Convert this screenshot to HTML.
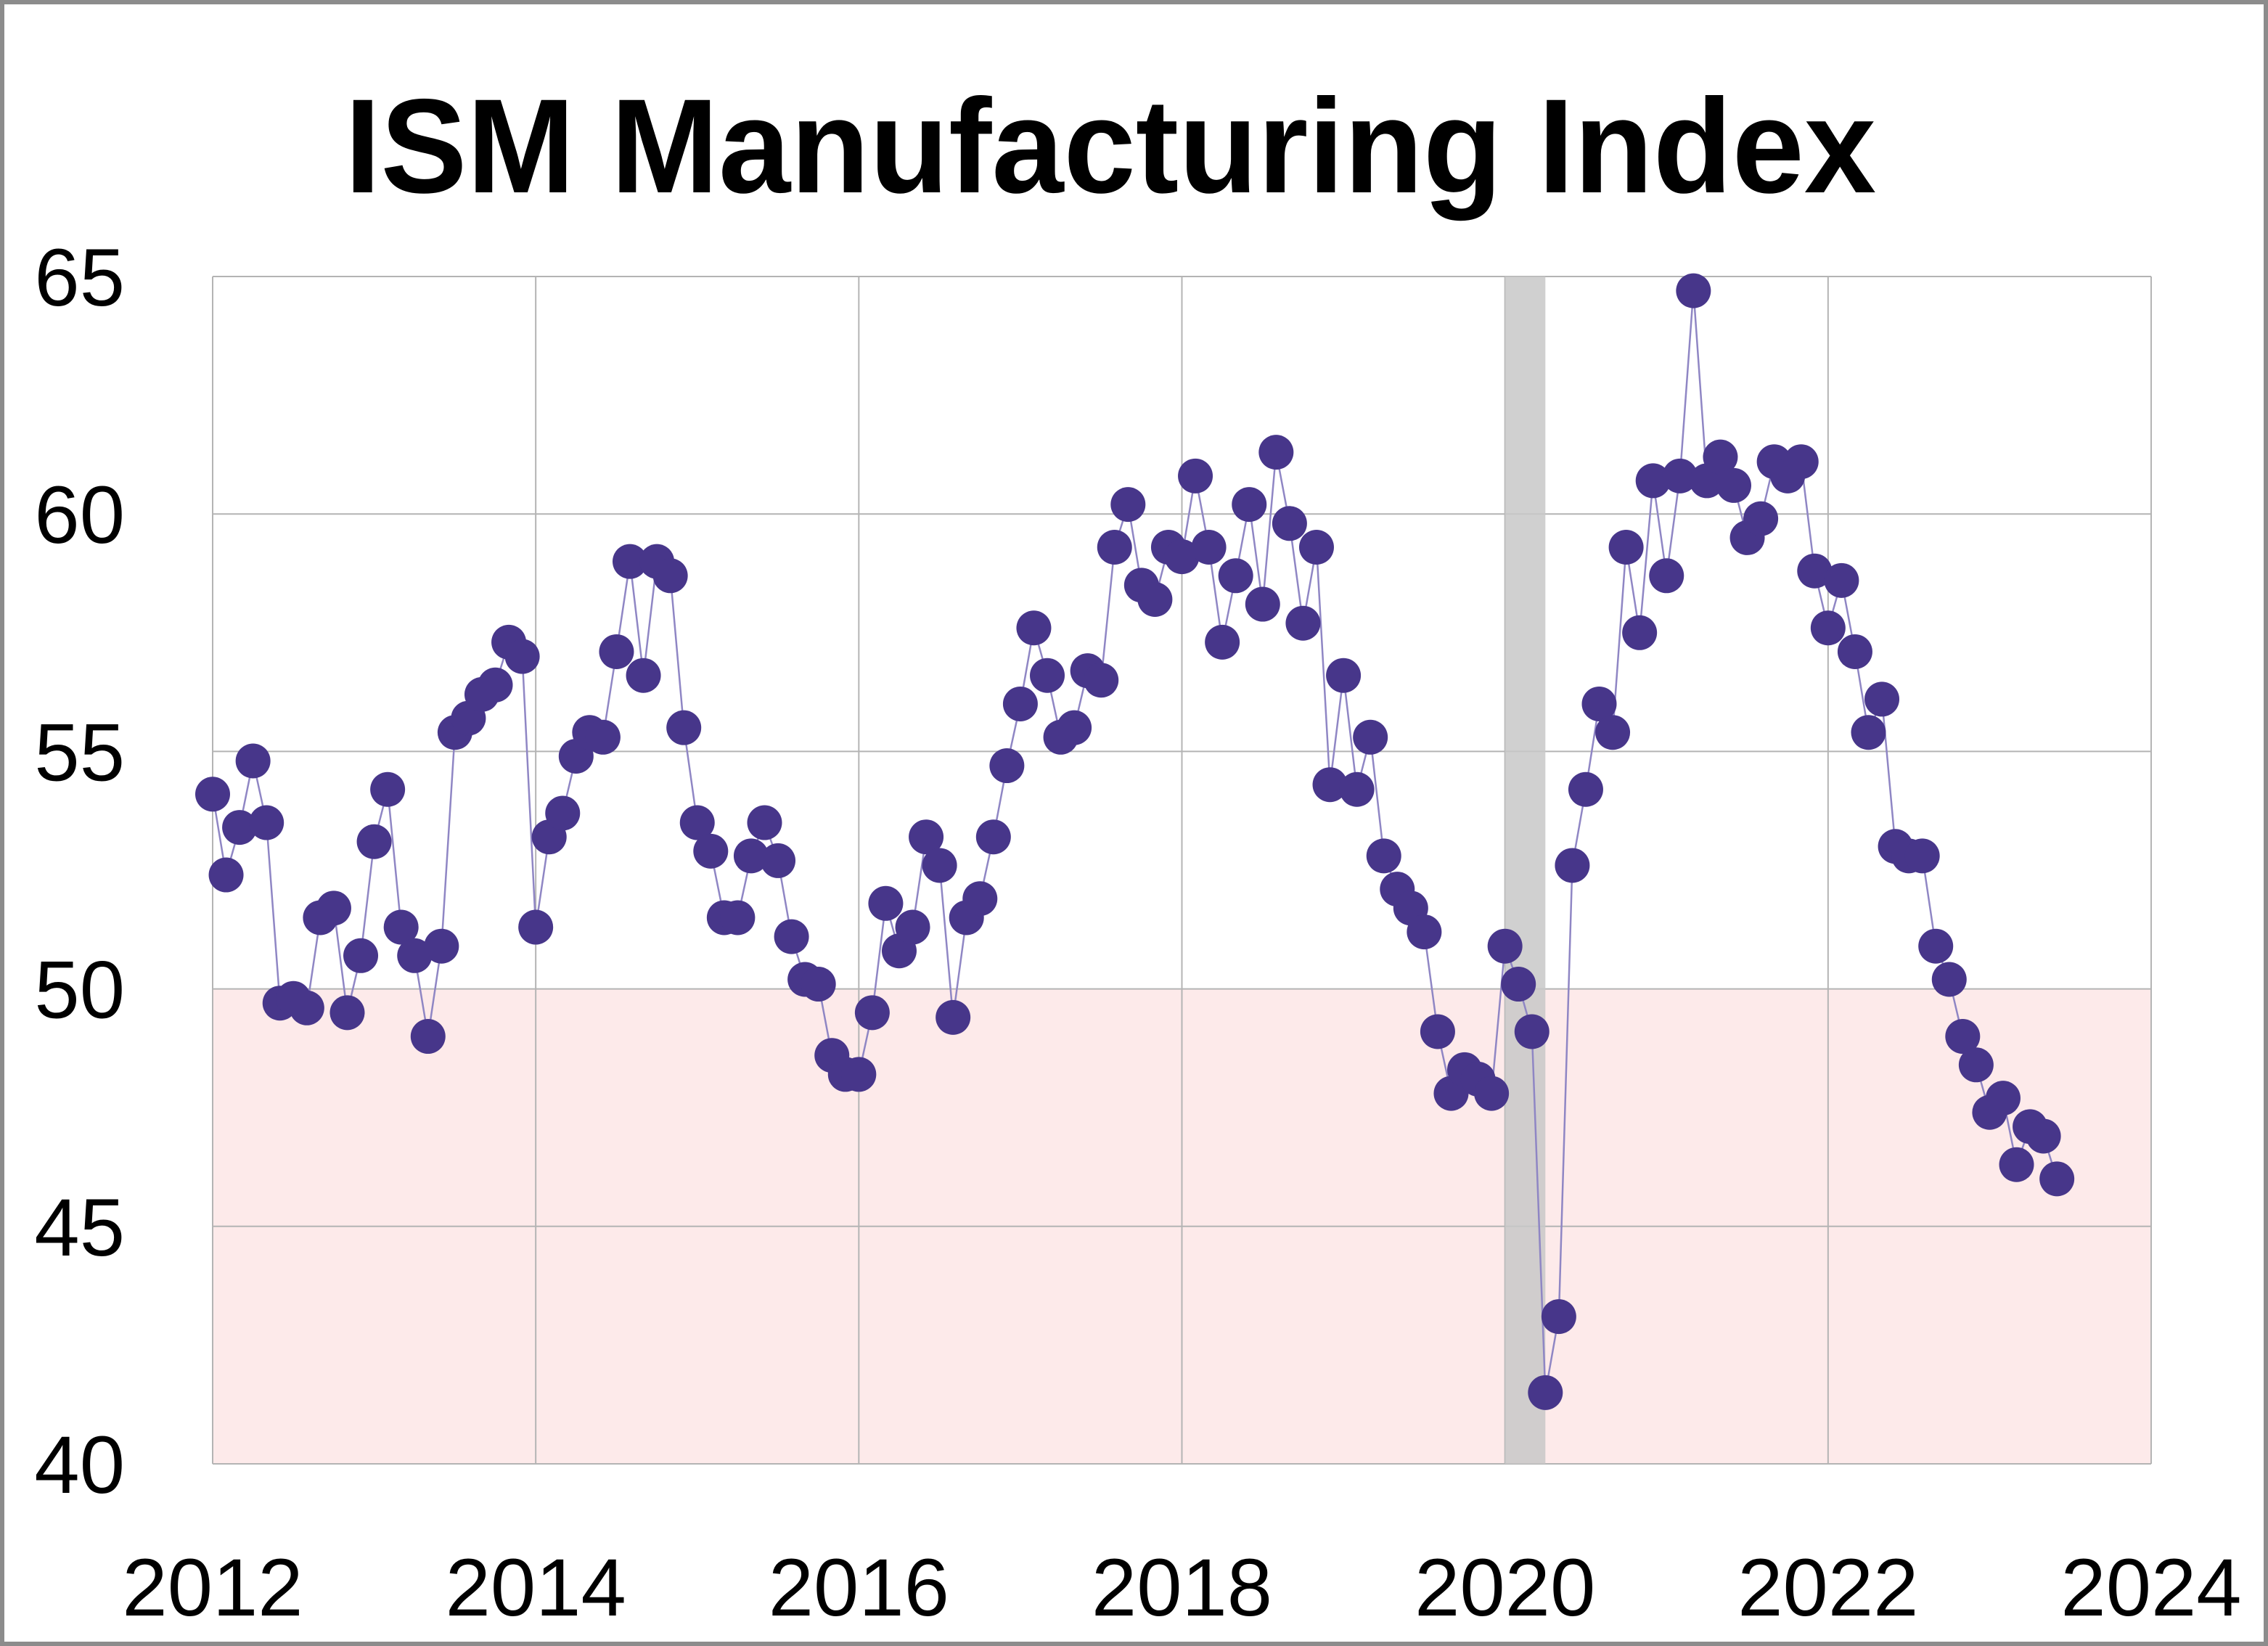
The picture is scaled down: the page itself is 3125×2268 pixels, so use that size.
<!DOCTYPE html>
<html><head><meta charset="utf-8">
<style>
html,body{margin:0;padding:0;background:#fff;}
svg{display:block;}
</style></head>
<body>
<svg id="chart" width="3125" height="2268" viewBox="0 0 3125 2268" xmlns="http://www.w3.org/2000/svg" font-family="'Liberation Sans', sans-serif">
<rect x="3" y="3" width="3119" height="2262" fill="#fff" stroke="#8c8c8c" stroke-width="6"/>
<text x="1530" y="265" text-anchor="middle" font-size="185" font-weight="bold" textLength="2110" lengthAdjust="spacingAndGlyphs">ISM Manufacturing Index</text>
<g id="plot"></g>
</svg>
<script>
const years = [2012,2014,2016,2018,2020,2022,2024];
const yTicks = [40,45,50,55,60,65];
const startYear = 2012;
const recession = [2020.0, 2020.25];
const contractionLevel = 50;
const values = [
54.1,52.4,53.4,54.8,53.5,49.7,49.8,49.6,51.5,51.7,49.5,50.7,
53.1,54.2,51.3,50.7,49.0,50.9,55.4,55.7,56.2,56.4,57.3,57.0,
51.3,53.2,53.7,54.9,55.4,55.3,57.1,59.0,56.6,59.0,58.7,55.5,
53.5,52.9,51.5,51.5,52.8,53.5,52.7,51.1,50.2,50.1,48.6,48.2,
48.2,49.5,51.8,50.8,51.3,53.2,52.6,49.4,51.5,51.9,53.2,54.7,
56.0,57.6,56.6,55.3,55.5,56.7,56.5,59.3,60.2,58.5,58.2,59.3,
59.1,60.8,59.3,57.3,58.7,60.2,58.1,61.3,59.8,57.7,59.3,54.3,
56.6,54.2,55.3,52.8,52.1,51.7,51.2,49.1,47.8,48.3,48.1,47.8,
50.9,50.1,49.1,41.5,43.1,52.6,54.2,56.0,55.4,59.3,57.5,60.7,
58.7,60.8,64.7,60.7,61.2,60.6,59.5,59.9,61.1,60.8,61.1,58.8,
57.6,58.6,57.1,55.4,56.1,53.0,52.8,52.8,50.9,50.2,49.0,48.4,
47.4,47.7,46.3,47.1,46.9,46.0];

const X0=293,X1=2964,Y0=2017,Y1=381,XMIN=2012,XMAX=2024,YMIN=40,YMAX=65;
const xs=v=>X0+(v-XMIN)/(XMAX-XMIN)*(X1-X0);
const ys=v=>Y0-(v-YMIN)/(YMAX-YMIN)*(Y0-Y1);
const NS="http://www.w3.org/2000/svg";
const g=document.getElementById('plot');
function mk(tag,attrs){const e=document.createElementNS(NS,tag);for(const k in attrs)e.setAttribute(k,attrs[k]);g.appendChild(e);return e;}

let e=mk('rect',{x:X0,y:Y1,width:X1-X0,height:Y0-Y1,fill:'#fff'});


e=mk('rect',{x:X0,y:ys(contractionLevel),width:X1-X0,height:Y0-ys(contractionLevel),fill:'#fdeaea'});



yTicks.forEach(t=>{
  const l=mk('line',{x1:X0,x2:X1,y1:ys(t),y2:ys(t),stroke:'#b4b4b4','stroke-width':2});
  
  
  const tx=mk('text',{x:172,y:ys(t)+40,'text-anchor':'end','font-size':112});
  tx.textContent=t;
  
  
});
years.forEach(yv=>{
  const l=mk('line',{x1:xs(yv),x2:xs(yv),y1:Y1,y2:Y0,stroke:'#b4b4b4','stroke-width':2});
  
  
  const tx=mk('text',{x:xs(yv),y:2226,'text-anchor':'middle','font-size':112});
  tx.textContent=yv;
  
  
});
e=mk('rect',{x:xs(recession[0]),y:Y1,width:xs(recession[1])-xs(recession[0]),height:Y0-Y1,fill:'#c8c8c8',opacity:0.85});



const pts=values.map((v,i)=>[xs(startYear+i/12),ys(v)]);
e=mk('polyline',{points:pts.map(p=>p.join(',')).join(' '),fill:'none',stroke:'#8f86c4','stroke-width':2.5});


pts.forEach(p=>{
  const c=mk('circle',{cx:p[0],cy:p[1],r:24,fill:'#47368a'});
  
  
});
</script>
</body></html>
